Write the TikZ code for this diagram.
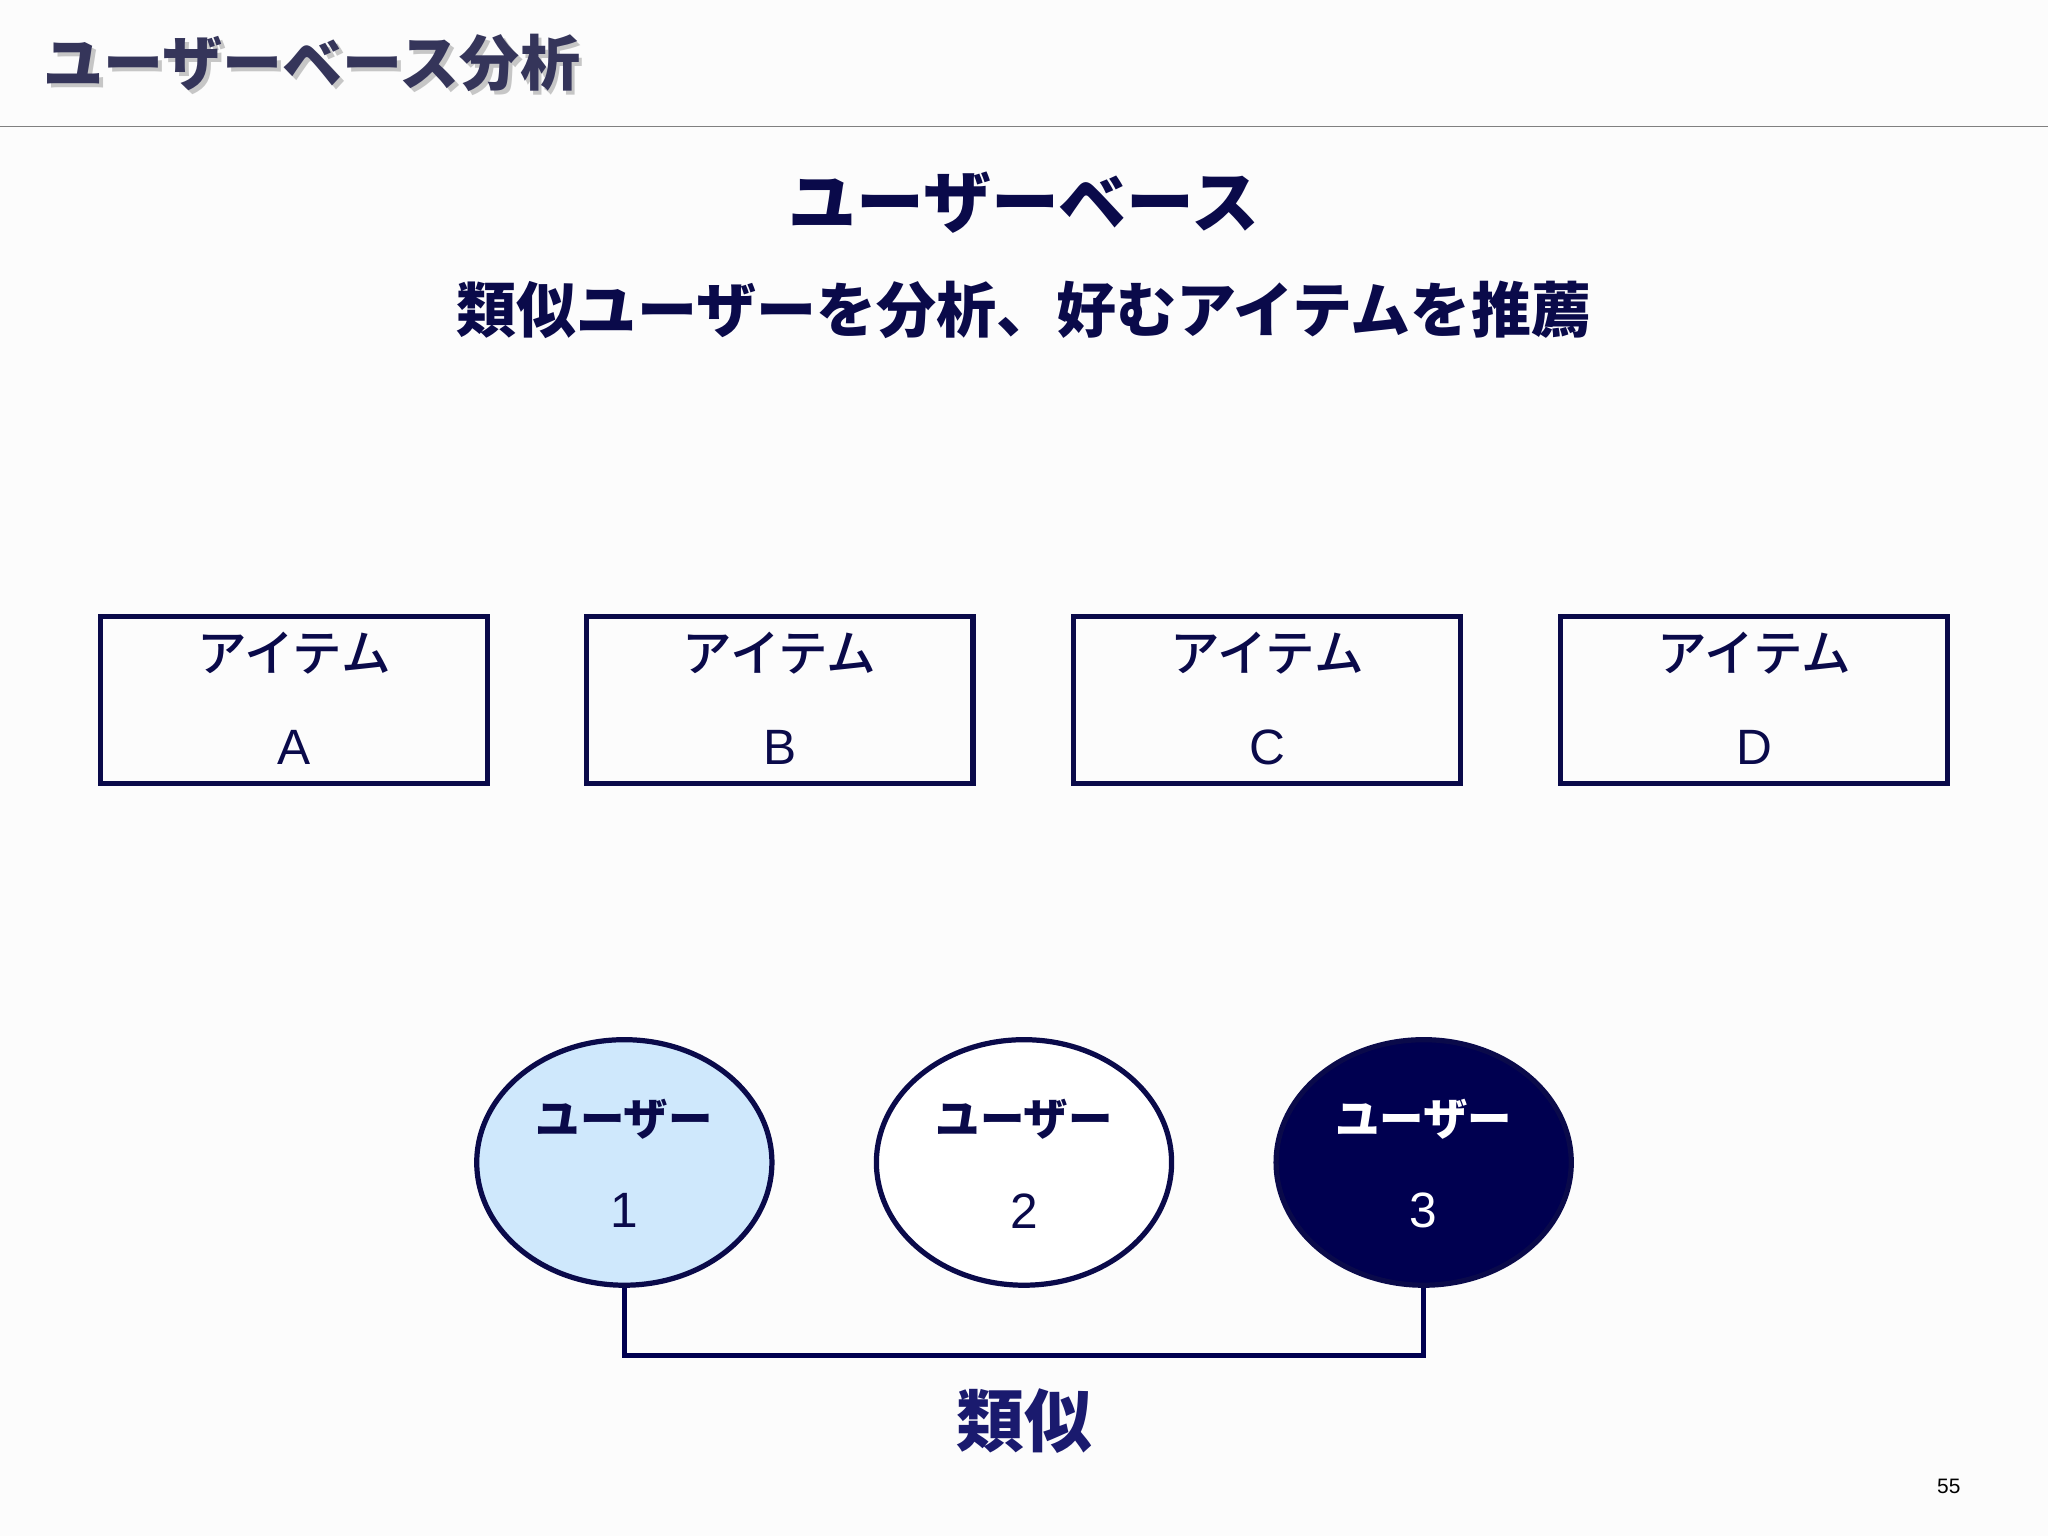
\documentclass[tikz,border=0pt]{standalone}
\usepackage{fontspec}
\setmainfont{Liberation Sans}
\newfontfamily\jpb{Noto Sans CJK JP Black}
\newfontfamily\jpm{Noto Sans CJK JP Medium}
\definecolor{navy}{HTML}{0A0A4A}
\definecolor{dnavy}{HTML}{000050}
\definecolor{lblue}{HTML}{CFE8FC}
\definecolor{tnavy}{HTML}{1A1A6E}
\definecolor{ttl}{HTML}{35355A}
\begin{document}
\begin{tikzpicture}[x=0.5pt,y=-0.5pt,
  item/.style={draw=navy,line width=2pt,minimum width=148pt,minimum height=64pt,inner sep=0pt},
  user/.style={ellipse,draw=navy,line width=2pt,minimum width=113pt,minimum height=94pt},
  iname/.style={font=\jpm\fontsize{19}{19}\selectfont,text=navy},
  ilet/.style={font=\fontsize{19}{19}\selectfont,text=navy},
  uname/.style={font=\jpb\fontsize{17}{17}\selectfont},
  unum/.style={font=\fontsize{19}{19}\selectfont}]
\usetikzlibrary{shapes.geometric}
\fill[white!98!gray] (0,0) rectangle (1568,1176);
\useasboundingbox (0,0) rectangle (1568,1176);
\node[anchor=west,font=\jpb\fontsize{23}{23}\selectfont,text=gray!45,inner sep=0pt] (tsh) at (36,51) {ユーザーベース分析};
\node[anchor=west,font=\jpb\fontsize{23}{23}\selectfont,text=ttl,inner sep=0pt] (t) at (33,48) {ユーザーベース分析};
\draw[gray,line width=0.6pt] (0,97) -- (1568,97);
\node[font=\jpb\fontsize{26}{26}\selectfont,text=navy] (h) at (784,155) {ユーザーベース};
\node[font=\jpb\fontsize{23}{23}\selectfont,text=navy] (s) at (784,237) {類似ユーザーを分析、好むアイテムを推薦};
\foreach \n/\x/\l in {a/225/A,b/597/B,c/970/C,d/1343/D}{
  \node[item] (\n) at (\x,536) {};
  \node[iname] at (\x,500) {アイテム};
  \node[ilet] at (\x,572) {\l};
}
\node[user,fill=lblue] (u1) at (478,890) {};
\node[user,fill=white] (u2) at (784,890) {};
\node[user,fill=dnavy] (u3) at (1090,890) {};
\foreach \n/\x/\c in {1/478/navy,2/784/navy,3/1090/white}{
  \node[uname,text=\c] at (\x,857) {ユーザー};
  \node[unum,text=\c] at (\x,927) {\n};
}
\draw[dnavy,line width=1.8pt] (u1.south) -- ++(0,52) -| (u3.south);
\node[font=\jpb\fontsize{26}{26}\selectfont,text=tnavy] (r) at (784,1088) {類似};
\node[font=\fontsize{8}{8}\selectfont] (p) at (1492,1138) {55};
\end{tikzpicture}
\end{document}
